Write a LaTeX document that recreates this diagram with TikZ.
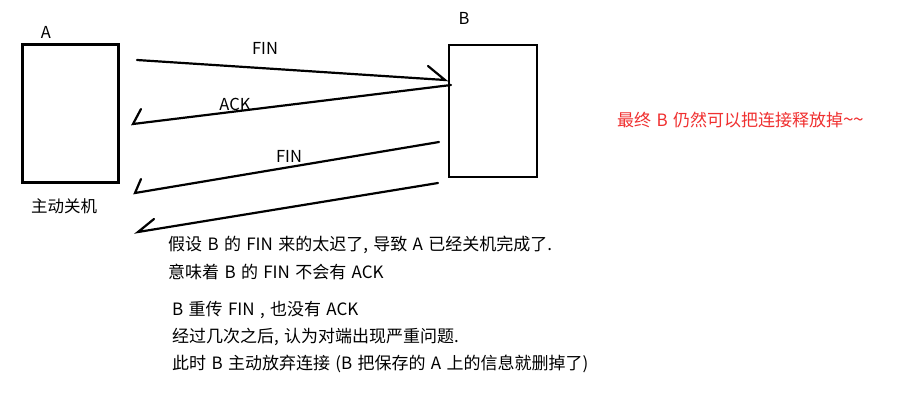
\documentclass[tikz,border=0pt]{standalone}
\usepackage{fontspec}
\setmainfont[WordSpace=1.4]{Noto Sans CJK SC}
\definecolor{redtxt}{HTML}{F03030}
\begin{document}
\begin{tikzpicture}[x=1pt,y=-1pt,
  hostbox/.style={draw,line width=2.3pt,minimum width=96pt,minimum height=138pt,inner sep=0pt},
  wire/.style={line width=2.2pt,line cap=round},
  lbl/.style={font=\fontsize{16.5}{18}\selectfont,inner sep=0pt},
  note/.style={font=\fontsize{17}{18}\selectfont,inner sep=0pt,anchor=west}]
\useasboundingbox (0,0) rectangle (900,400);
\fill[white] (0,0) rectangle (900,400);
% hosts
\node[hostbox] (A) at (70.5,113.5) {};
\node[hostbox,minimum width=88pt,minimum height=132pt] (B) at (493,111) {};
\node[lbl] (la) at (46,32) {A};
\node[lbl] (lb) at (464,18) {B};
\node[lbl,font=\fontsize{16.5}{18}\selectfont] (lsd) at (64,206) {主动关机};
% endpoints
\coordinate (f1s) at (137,60);
\coordinate (f1e) at (445,80);
\coordinate (f1b) at (428,66);
\coordinate (a1s) at (451,85);
\coordinate (a1e) at (133,124);
\coordinate (a1b) at (141,109);
\coordinate (f2s) at (439,142);
\coordinate (f2e) at (135,193);
\coordinate (f2b) at (141,179);
\coordinate (f3s) at (438,183);
\coordinate (f3e) at (138,232);
\coordinate (f3b) at (154,219);
% connectors
\draw[wire] (f1s) -- (f1e) -- (f1b);
\draw[wire] (a1s) -- (a1e) -- (a1b);
\draw[wire] (f2s) -- (f2e) -- (f2b);
\draw[wire] (f3s) -- (f3e) -- (f3b);
% labels
\node[lbl] (lf1) at (265,48) {FIN};
\node[lbl] (lack) at (235,104) {ACK};
\node[lbl] (lf2) at (289,156) {FIN};
% notes
\node[note] (n1) at (168,245) {假设 B 的 FIN 来的太迟了, 导致 A 已经关机完成了.};
\node[note] (n2) at (168,272) {意味着 B 的 FIN 不会有 ACK};
\node[note] (n3) at (172,310) {B 重传 FIN , 也没有 ACK};
\node[note] (n4) at (172,337) {经过几次之后, 认为对端出现严重问题.};
\node[note] (n5) at (172,364) {此时 B 主动放弃连接 (B 把保存的 A 上的信息就删掉了)};
\node[note,text=redtxt] (red) at (617,120) {最终 B 仍然可以把连接释放掉{\fontsize{19}{18}\selectfont\~{}\~{}}};
\end{tikzpicture}
\end{document}
